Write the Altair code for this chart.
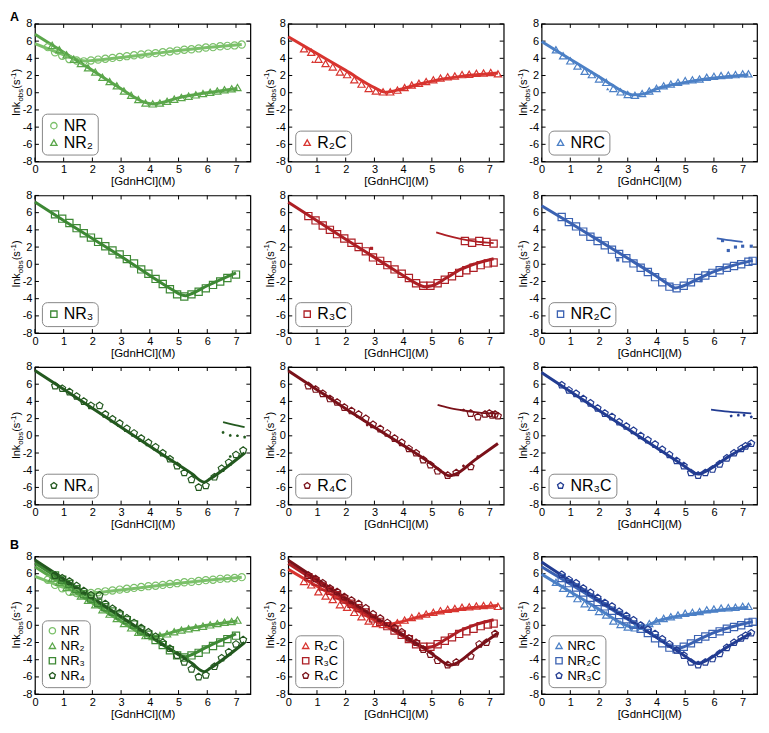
import altair as alt
import pandas as pd

# ------------------------------------------------------------------ data
NR_x = [0.45,0.7,0.95,1.2,1.45,1.7,1.95,2.2,2.45,2.7,2.95,3.2,3.45,3.7,3.95,4.2,4.45,4.7,4.95,5.2,5.45,5.7,5.95,6.2,6.45,6.7,6.95,7.2]
NR_y = [5.3,4.7,4.3,3.9,3.75,3.65,3.75,3.85,3.95,4.05,4.15,4.25,4.35,4.45,4.55,4.6,4.7,4.8,4.9,5.0,5.05,5.15,5.25,5.3,5.4,5.45,5.5,5.6]
NR_fit_x = [0,0.5,1.0,1.5,1.75,2.0,3.0,4.0,5.0,6.0,7.2]
NR_fit_y = [5.7,5.05,4.4,3.85,3.7,3.75,4.1,4.5,4.9,5.25,5.6]

NR2_x = [0.6,0.85,1.1,1.35,1.6,1.85,2.1,2.35,2.6,2.85,3.1,3.35,3.6,3.85,4.1,4.35,4.6,4.85,5.1,5.35,5.6,5.85,6.1,6.35,6.6,6.85,7.05]
NR2_y = [5.5,5.0,4.4,3.9,3.4,2.9,2.4,1.8,1.3,0.8,0.2,-0.3,-0.8,-1.2,-1.3,-1.2,-1.0,-0.75,-0.55,-0.4,-0.25,-0.1,0.05,0.2,0.35,0.45,0.6]
NR2_fit_x = [0,1,2,3,3.5,3.8,4.1,4.4,5,6,7.05]
NR2_fit_y = [6.8,4.7,2.6,0.45,-0.6,-1.1,-1.3,-1.15,-0.6,0.0,0.5]

NR3_x = [0.7,0.95,1.2,1.45,1.7,1.95,2.2,2.45,2.7,2.95,3.2,3.45,3.7,3.95,4.2,4.45,4.7,4.95,5.2,5.45,5.7,5.95,6.2,6.45,6.7,7.0]
NR3_y = [5.8,5.3,4.8,4.2,3.6,3.1,2.6,2.1,1.6,1.15,0.6,0.1,-0.6,-1.1,-1.7,-2.3,-2.9,-3.5,-3.75,-3.5,-3.2,-2.8,-2.4,-2.0,-1.6,-1.2]
NR3_fit_x = [0,1,2,3,4,4.8,5.1,5.25,5.4,6,7.0]
NR3_fit_y = [7.25,5.1,3.0,0.9,-1.3,-3.0,-3.55,-3.65,-3.5,-2.5,-1.0]

NR4_x = [0.7,0.95,1.2,1.45,1.7,1.95,2.25,2.45,2.7,2.95,3.2,3.45,3.7,3.95,4.2,4.45,4.7,4.95,5.2,5.45,5.7,5.95,6.25,6.5,6.75,7.0,7.25]
NR4_y = [5.8,5.5,5.1,4.6,4.0,3.5,3.5,2.5,1.95,1.45,0.85,0.3,-0.3,-0.8,-1.3,-2.0,-2.7,-3.5,-4.3,-5.1,-6.0,-5.8,-4.8,-3.8,-3.1,-2.2,-1.7]
NR4_fit_x = [0,1,2,3,4,5,5.5,5.75,5.9,6.1,7.3]
NR4_fit_y = [7.6,5.4,3.2,1.0,-1.2,-3.4,-4.5,-5.2,-5.4,-5.0,-2.0]
NR4_up_x = [6.55,6.9,7.3]
NR4_up_y = [1.6,1.3,1.0]
NR4_dot_x = [6.55,6.8,7.05,7.3,6.8]
NR4_dot_y = [0.4,0.05,0.0,-0.15,-2.4]

R2C_x = [0.55,0.8,1.05,1.3,1.55,1.8,2.05,2.3,2.55,2.8,3.05,3.3,3.55,3.8,4.05,4.3,4.55,4.8,5.05,5.3,5.55,5.8,6.05,6.3,6.55,6.8,7.05,7.3]
R2C_y = [5.1,4.7,3.9,3.4,3.0,2.4,2.1,1.5,1.0,0.5,0.2,0.1,0.1,0.3,0.6,0.9,1.1,1.3,1.5,1.7,1.85,1.95,2.1,2.15,2.25,2.3,2.35,2.2]
R2C_fit_x = [0,1,2,3,3.4,3.8,4.5,5,6,7.3]
R2C_fit_y = [6.5,4.55,2.6,0.6,0.05,0.3,0.95,1.35,1.9,2.3]
R2C_dot_x = [0.85]
R2C_dot_y = [3.6]

NRC_x = [0.5,0.75,1.0,1.25,1.5,1.75,2.0,2.25,2.5,2.75,3.0,3.25,3.5,3.75,4.0,4.25,4.5,4.75,5.0,5.25,5.5,5.75,6.0,6.25,6.5,6.75,7.0,7.2]
NRC_y = [5.0,4.3,3.7,3.1,2.5,2.1,1.6,1.2,0.5,0.1,-0.2,-0.3,-0.1,0.2,0.5,0.8,1.0,1.2,1.4,1.5,1.6,1.8,1.9,2.0,2.05,2.1,2.2,2.2]
NRC_fit_x = [0,1,2,2.5,2.8,3.2,3.6,4,5,6,7.2]
NRC_fit_y = [5.95,3.9,1.85,0.8,0.2,-0.25,-0.1,0.45,1.2,1.7,2.1]
NRC_dot_x = [2.3]
NRC_dot_y = [0.45]

R3C_x = [0.7,0.95,1.2,1.45,1.7,1.95,2.2,2.45,2.7,2.95,3.2,3.45,3.7,3.95,4.2,4.45,4.7,4.95,5.2,5.45,5.7,5.95,6.2,6.45,6.7,6.95,7.15]
R3C_y = [5.6,5.1,4.5,4.0,3.5,3.0,2.5,2.0,1.5,0.8,0.4,-0.1,-0.6,-1.1,-1.6,-2.2,-2.5,-2.5,-2.2,-1.8,-1.4,-1.0,-0.7,-0.4,-0.1,0.1,0.2]
R3C_fit_x = [0,1,2,3,4,4.5,4.75,5.0,5.5,6,6.5,7.15]
R3C_fit_y = [7.2,5.05,2.9,0.8,-1.3,-2.3,-2.6,-2.5,-1.6,-0.6,0.05,0.65]
R3C_up_x = [5.15,5.5,6.0,6.5,7.15]
R3C_up_y = [3.7,3.35,2.95,2.65,2.45]
R3C_upm_x = [6.15,6.4,6.65,6.9,7.15]
R3C_upm_y = [2.7,2.5,2.7,2.6,2.4]
R3C_dot_x = [2.9]
R3C_dot_y = [1.85]

NR2C_x = [0.7,0.95,1.2,1.45,1.7,1.95,2.2,2.45,2.7,2.95,3.2,3.45,3.7,3.95,4.2,4.45,4.7,4.95,5.2,5.45,5.7,5.95,6.2,6.45,6.7,6.95,7.2,7.35]
NR2C_y = [5.5,4.9,4.4,3.8,3.2,2.7,2.2,1.7,1.2,0.7,0.1,-0.4,-0.9,-1.5,-2.1,-2.6,-2.8,-2.5,-2.1,-1.6,-1.3,-1.0,-0.7,-0.4,-0.2,0.0,0.3,0.4]
NR2C_fit_x = [0,1,2,3,4,4.4,4.65,4.9,5.5,6,6.6,7.35]
NR2C_fit_y = [6.8,4.8,2.75,0.7,-1.4,-2.3,-2.75,-2.55,-1.6,-0.85,-0.2,0.45]
NR2C_up_x = [6.1,6.5,7.0]
NR2C_up_y = [3.0,2.8,2.6]
NR2C_dot_x = [2.65,5.55,5.8,6.3,6.5,6.75,7.0,7.3]
NR2C_dot_y = [0.5,-1.9,-1.0,2.75,1.6,2.0,2.1,2.1]

R4C_x = [0.7,0.95,1.2,1.45,1.7,1.95,2.2,2.45,2.7,2.95,3.2,3.45,3.7,3.95,4.2,4.45,4.7,4.95,5.2,5.55,5.85,6.35]
R4C_y = [5.8,5.4,4.9,4.3,3.9,3.3,2.9,2.5,2.0,1.3,0.8,0.3,-0.3,-0.8,-1.5,-2.0,-2.8,-3.4,-4.1,-4.6,-4.3,-3.6]
R4C_fit_x = [0,1,2,3,4,5,5.4,5.6,5.8,6.5,7.3]
R4C_fit_y = [7.55,5.35,3.15,1.0,-1.1,-3.3,-4.3,-4.65,-4.5,-2.8,-0.9]
R4C_up_x = [5.2,5.6,6.0,6.5,7.0,7.3]
R4C_up_y = [3.6,3.25,3.0,2.75,2.6,2.6]
R4C_upm_x = [6.35,6.6,6.85,7.0,7.1,7.2,7.3]
R4C_upm_y = [2.6,2.2,2.5,2.6,2.4,2.5,2.3]
R4C_dot_x = [2.75,6.1,6.1,6.6]
R4C_dot_y = [1.25,3.0,-3.5,-2.4]
R4C_B_x = [6.65,6.9,7.2]
R4C_B_y = [-2.2,-2.0,-1.0]

NR3C_x = [0.7,0.95,1.2,1.45,1.7,1.95,2.2,2.45,2.7,2.95,3.2,3.45,3.7,3.95,4.2,4.45,4.7,4.95,5.2,5.45,5.7,5.95,6.2,6.45,6.7,6.95,7.1,7.3]
NR3C_y = [5.9,5.3,4.9,4.3,3.8,3.2,2.6,2.2,1.6,1.1,0.6,0.0,-0.5,-1.0,-1.6,-2.2,-2.9,-3.5,-4.3,-4.6,-4.3,-3.9,-3.3,-2.6,-2.0,-1.5,-1.2,-0.9]
NR3C_fit_x = [0,1,2,3,4,5,5.3,5.45,5.6,6.5,7.3]
NR3C_fit_y = [7.35,5.15,2.95,0.8,-1.4,-3.6,-4.3,-4.45,-4.3,-2.45,-0.9]
NR3C_up_x = [5.9,6.5,7.3]
NR3C_up_y = [3.05,2.8,2.6]
NR3C_dot_x = [6.6,6.85,7.05,7.3]
NR3C_dot_y = [2.3,2.4,2.4,2.2]

X_TICKS = [0, 1, 2, 3, 4, 5, 6, 7]
Y_TICKS = [-8, -6, -4, -2, 0, 2, 4, 6, 8]

# ------------------------------------------------------------------ styling
FONT = "Liberation Sans"
W, H = 216, 138
MSIZE = 52
PENTAGON = "M0,-1L0.951,-0.309L0.588,0.809L-0.588,0.809L-0.951,-0.309Z"

SERIES = {
    "NR":   dict(color="#7bc06a", shape="circle",       mx=NR_x,   my=NR_y,   fx=NR_fit_x,   fy=NR_fit_y),
    "NR₂":  dict(color="#5aa64a", shape="triangle-up",  mx=NR2_x,  my=NR2_y,  fx=NR2_fit_x,  fy=NR2_fit_y),
    "NR₃":  dict(color="#3d8834", shape="square",       mx=NR3_x,  my=NR3_y,  fx=NR3_fit_x,  fy=NR3_fit_y),
    "NR₄":  dict(color="#23591f", shape=PENTAGON,       mx=NR4_x,  my=NR4_y,  fx=NR4_fit_x,  fy=NR4_fit_y),
    "R₂C":  dict(color="#d8342f", shape="triangle-up",  mx=R2C_x,  my=R2C_y,  fx=R2C_fit_x,  fy=R2C_fit_y),
    "R₃C":  dict(color="#ad1f25", shape="square",       mx=R3C_x,  my=R3C_y,  fx=R3C_fit_x,  fy=R3C_fit_y),
    "R₄C":  dict(color="#7a1119", shape=PENTAGON,       mx=R4C_x,  my=R4C_y,  fx=R4C_fit_x,  fy=R4C_fit_y),
    "NRC":  dict(color="#4c80c6", shape="triangle-up",  mx=NRC_x,  my=NRC_y,  fx=NRC_fit_x,  fy=NRC_fit_y),
    "NR₂C": dict(color="#3b62b2", shape="square",       mx=NR2C_x, my=NR2C_y, fx=NR2C_fit_x, fy=NR2C_fit_y),
    "NR₃C": dict(color="#223c92", shape=PENTAGON,       mx=NR3C_x, my=NR3C_y, fx=NR3C_fit_x, fy=NR3C_fit_y),
}

UPFIT = {"NR₄": (NR4_up_x, NR4_up_y), "R₃C": (R3C_up_x, R3C_up_y), "NR₂C": (NR2C_up_x, NR2C_up_y),
         "R₄C": (R4C_up_x, R4C_up_y), "NR₃C": (NR3C_up_x, NR3C_up_y)}
UPMARK = {"R₃C": (R3C_upm_x, R3C_upm_y), "R₄C": (R4C_upm_x, R4C_upm_y)}
DOTS = {"NR₄": (NR4_dot_x, NR4_dot_y), "R₂C": (R2C_dot_x, R2C_dot_y), "NRC": (NRC_dot_x, NRC_dot_y),
        "R₃C": (R3C_dot_x, R3C_dot_y), "NR₂C": (NR2C_dot_x, NR2C_dot_y), "R₄C": (R4C_dot_x, R4C_dot_y),
        "NR₃C": (NR3C_dot_x, NR3C_dot_y)}
B_EXTRA = {"R₄C": (R4C_B_x, R4C_B_y)}


def frame(items):
    rows = []
    for lab, xs, ys in items:
        for a, b in zip(xs, ys):
            rows.append({"series": lab, "x": a, "y": b})
    return pd.DataFrame(rows, columns=["series", "x", "y"])


XENC = alt.X("x:Q", scale=alt.Scale(domain=[0, 7.5], nice=False, zero=False),
             axis=alt.Axis(values=X_TICKS, ticks=False, domain=False, grid=False,
                           labelFontSize=11, labelPadding=2, labelFlush=False, labelOverlap=False,
                           title="[GdnHCl](M)", titleFontSize=11.5, titleFontWeight="normal",
                           titlePadding=1))
YENC = alt.Y("y:Q", scale=alt.Scale(domain=[-8, 8], nice=False, zero=False),
             axis=alt.Axis(values=Y_TICKS, ticks=False, domain=False, grid=False,
                           labelFontSize=11, labelPadding=3, labelFlush=False, labelOverlap=False,
                           labelExpr="'' + datum.value", title=None))

ONE = pd.DataFrame({"k": [0]})


def note(text, size, x, y, angle=270, weight="normal", baseline="alphabetic"):
    return alt.Chart(ONE).mark_text(text=text, angle=angle, align="left", baseline=baseline,
                                    fontSize=size, font=FONT, fontWeight=weight,
                                    color="black").encode(x=alt.value(x), y=alt.value(y))


def panel(names, detailed, legend_size, letter=None, letter_y=-7):
    colors = [SERIES[n]["color"] for n in names]
    shapes = [SERIES[n]["shape"] for n in names]
    cscale = alt.Scale(domain=names, range=colors)
    sscale = alt.Scale(domain=names, range=shapes)

    tx = pd.DataFrame({"x": X_TICKS})
    ty = pd.DataFrame({"y": Y_TICKS})
    layers = [
        alt.Chart(tx).mark_rule(color="black", strokeWidth=1).encode(x=XENC, y=alt.value(H), y2=alt.value(H - 4)),
        alt.Chart(tx).mark_rule(color="black", strokeWidth=1).encode(x=XENC, y=alt.value(0), y2=alt.value(4)),
        alt.Chart(ty).mark_rule(color="black", strokeWidth=1).encode(y=YENC, x=alt.value(0), x2=alt.value(4)),
        alt.Chart(ty).mark_rule(color="black", strokeWidth=1).encode(y=YENC, x=alt.value(W), x2=alt.value(W - 4)),
    ]

    fits = frame([(n, SERIES[n]["fx"], SERIES[n]["fy"]) for n in names])
    layers.append(alt.Chart(fits).mark_line(strokeWidth=3, interpolate="monotone").encode(
        x=XENC, y=YENC, color=alt.Color("series:N", scale=cscale, legend=None)))

    if detailed:
        up = [(n,) + UPFIT[n] for n in names if n in UPFIT]
        if up:
            layers.append(alt.Chart(frame(up)).mark_line(strokeWidth=1.8, interpolate="monotone").encode(
                x=XENC, y=YENC, color=alt.Color("series:N", scale=cscale, legend=None)))
        dots = [(n,) + DOTS[n] for n in names if n in DOTS]
        if dots:
            layers.append(alt.Chart(frame(dots)).mark_point(filled=True, size=10, opacity=1).encode(
                x=XENC, y=YENC, color=alt.Color("series:N", scale=cscale, legend=None),
                shape=alt.Shape("series:N", scale=sscale, legend=None)))
        um = [(n,) + UPMARK[n] for n in names if n in UPMARK]
        if um:
            layers.append(alt.Chart(frame(um)).mark_point(filled=False, size=MSIZE, strokeWidth=1.2, opacity=1).encode(
                x=XENC, y=YENC, color=alt.Color("series:N", scale=cscale, legend=None),
                shape=alt.Shape("series:N", scale=sscale, legend=None)))
    else:
        ex = [(n,) + B_EXTRA[n] for n in names if n in B_EXTRA]
        if ex:
            layers.append(alt.Chart(frame(ex)).mark_point(filled=False, size=MSIZE, strokeWidth=1.2, opacity=1).encode(
                x=XENC, y=YENC, color=alt.Color("series:N", scale=cscale, legend=None),
                shape=alt.Shape("series:N", scale=sscale, legend=None)))

    leg = alt.Legend(title=None, orient="bottom-left", offset=7, labelFontSize=legend_size,
                     labelFont=FONT, labelColor="black", symbolSize=40, symbolStrokeWidth=1.3,
                     padding=4, strokeColor="#888888", fillColor="white", cornerRadius=5,
                     rowPadding=1, labelOffset=2, labelLimit=200)
    pts = frame([(n, SERIES[n]["mx"], SERIES[n]["my"]) for n in names])
    layers.append(alt.Chart(pts).mark_point(filled=False, size=MSIZE, strokeWidth=1.2, opacity=1).encode(
        x=XENC, y=YENC, color=alt.Color("series:N", scale=cscale, legend=leg),
        shape=alt.Shape("series:N", scale=sscale, legend=leg)))

    # y-axis title: lnk_obs(s^-1)
    b = H / 2 + 23
    layers += [
        note("lnk", 11, -14.5, b),
        note("obs", 8, -12, b - 14.1),
        note("(s", 11, -14.5, b - 27.0),
        note("-1", 8, -19, b - 36.2),
        note(")", 11, -14.5, b - 43.3),
    ]
    if letter:
        layers.append(note(letter, 12.5, -25, letter_y, angle=0, weight="bold", baseline="middle"))

    return alt.layer(*layers).resolve_scale(color="independent", shape="independent").properties(
        width=W, height=H)


row1 = alt.hconcat(panel(["NR", "NR₂"], True, 16, "A"), panel(["R₂C"], True, 16),
                   panel(["NRC"], True, 16), spacing=38, bounds="flush")
row2 = alt.hconcat(panel(["NR₃"], True, 16), panel(["R₃C"], True, 16),
                   panel(["NR₂C"], True, 16), spacing=38, bounds="flush")
row3 = alt.hconcat(panel(["NR₄"], True, 16), panel(["R₄C"], True, 16),
                   panel(["NR₃C"], True, 16), spacing=38, bounds="flush")
rowB = alt.hconcat(panel(["NR", "NR₂", "NR₃", "NR₄"], False, 13, "B", -12),
                   panel(["R₂C", "R₃C", "R₄C"], False, 13),
                   panel(["NRC", "NR₂C", "NR₃C"], False, 13), spacing=38, bounds="flush")

top = alt.vconcat(row1, row2, row3, spacing=0)
chart = alt.vconcat(top, rowB, spacing=6).properties(
    padding={"left": 1, "top": 1, "right": 1, "bottom": 1}
).configure_view(stroke="black", strokeWidth=1.2).configure_axis(
    labelFont=FONT, titleFont=FONT, labelColor="black", titleColor="black"
)

chart.save("out.html", embed_options={"renderer": "svg", "actions": False})
